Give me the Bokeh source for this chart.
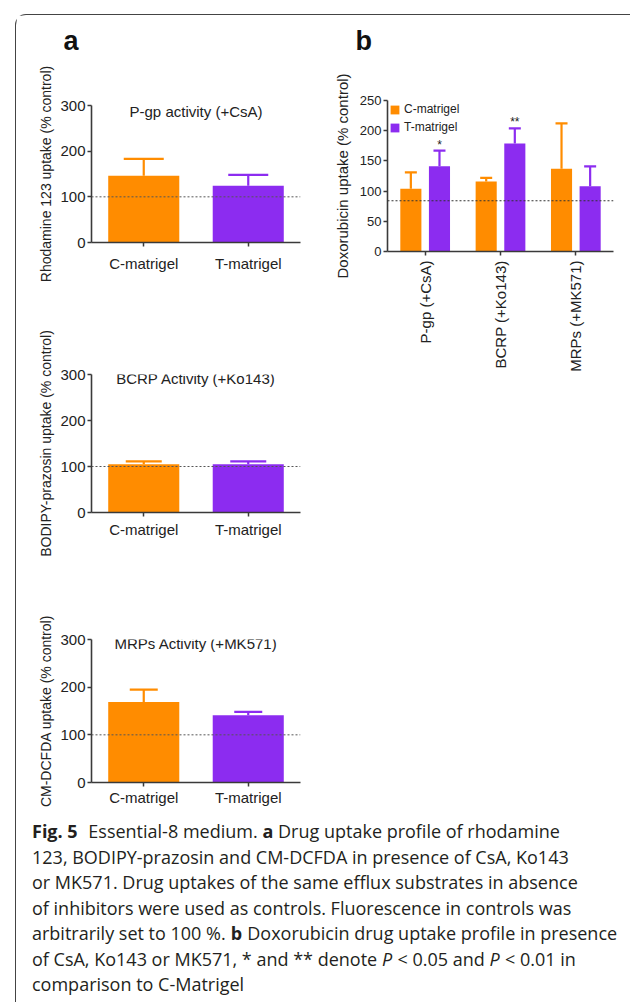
import math
from bokeh.plotting import figure
from bokeh.models import (ColumnDataSource, FactorRange, Range1d, Span, Whisker,
                          TeeHead, Label, SingleIntervalTicker, Title)
from bokeh.transform import dodge
from bokeh.layouts import column, row
from bokeh.core.properties import value
from bokeh.embed import file_html
from bokeh.resources import INLINE

# ---------------- data ----------------
conditions = ["C-matrigel", "T-matrigel"]
series_colors = ["#FF8C00", "#8C2CF0"]

pgp_mean = [146, 124]
pgp_err = [37, 24]
bcrp_mean = [105, 105]
bcrp_err = [6, 6]
mrp_mean = [169, 141]
mrp_err = [26, 7]
control_a = 100

a_titles = ["P-gp activity (+CsA)", "BCRP Activity (+Ko143)", "MRPs Activity (+MK571)"]
a_ylabels = ["Rhodamine 123 uptake (% control)",
             "BODIPY-prazosin uptake (% control)",
             "CM-DCFDA uptake (% control)"]

transporters = ["P-gp (+CsA)", "BCRP (+Ko143)", "MRPs (+MK571)"]
dox_c_mean = [104, 116, 137]
dox_c_err = [27, 6, 75]
dox_t_mean = [141, 179, 108]
dox_t_err = [26, 25, 33]
dox_sig = ["*", "**", ""]
control_b = 84

caption_lines = [
    [("Fig. 5", "bold", 2), ("Essential-8 medium.", "normal", 1), ("a", "bold", 1),
     ("Drug uptake profile of rhodamine", "normal", 0)],
    [("123, BODIPY-prazosin and CM-DCFDA in presence of CsA, Ko143", "normal", 0)],
    [("or MK571. Drug uptakes of the same efflux substrates in absence", "normal", 0)],
    [("of inhibitors were used as controls. Fluorescence in controls was", "normal", 0)],
    [("arbitrarily set to 100 %.", "normal", 1), ("b", "bold", 1),
     ("Doxorubicin drug uptake profile in presence", "normal", 0)],
    [("of CsA, Ko143 or MK571, * and ** denote", "normal", 1), ("P", "italic", 1),
     ("< 0.05 and", "normal", 1), ("P", "italic", 1), ("< 0.01 in", "normal", 0)],
    [("comparison to C-Matrigel", "normal", 0)],
]

# ---------------- styling ----------------
FONT = "Liberation Sans"
AX = "#3a3a3a"
TXT = "#222222"


def style_axes(p, tick_px, label_px, xstand):
    for ax in (p.xaxis[0], p.yaxis[0]):
        ax.axis_line_color = AX
        ax.axis_line_width = 1.6
        ax.major_tick_line_color = AX
        ax.major_tick_line_width = 1.5
        ax.major_tick_out = 4
        ax.major_tick_in = 0
        ax.minor_tick_line_color = None
        ax.major_label_text_font = FONT
        ax.major_label_text_font_size = tick_px
        ax.major_label_text_color = TXT
        ax.axis_label_text_font = FONT
        ax.axis_label_text_font_size = label_px
        ax.axis_label_text_font_style = "normal"
        ax.axis_label_text_color = TXT
    p.xaxis[0].major_label_standoff = xstand
    p.yaxis[0].major_label_standoff = 2
    p.yaxis[0].axis_label_standoff = 3
    p.xgrid.visible = False
    p.ygrid.visible = False
    p.outline_line_color = None
    p.background_fill_color = "white"
    p.border_fill_color = "white"


def panel_letter(p, letter, offset, gap):
    # an invisible spacer title next to the frame, then the panel letter above it
    p.add_layout(Title(text=" ", text_font_size="10px", standoff=gap), "above")
    p.add_layout(Title(text=letter, align="left", offset=offset, standoff=0,
                       text_font=FONT, text_font_size="27px", text_font_style="bold",
                       text_color="#111111"), "above")


def panel_a(k, mean, err, w, h, bl, br, bt, bb, cap, xstand, title_y):
    p = figure(width=w, height=h, x_range=FactorRange(*conditions),
               y_range=Range1d(0, 300), output_backend="svg", toolbar_location=None,
               title=None, min_border_left=bl, min_border_right=br, min_border_top=bt,
               min_border_bottom=bb)
    src = ColumnDataSource(dict(x=conditions, top=mean, color=series_colors))
    p.vbar(x="x", top="top", width=0.68, fill_color="color", line_color=None, source=src)
    for i in range(len(conditions)):
        s = ColumnDataSource(dict(x=[conditions[i]], lo=[mean[i]], hi=[mean[i] + err[i]]))
        p.add_layout(Whisker(base="x", lower="lo", upper="hi", source=s,
                             line_color=series_colors[i], line_width=2.2, lower_head=None,
                             upper_head=TeeHead(size=cap, line_color=series_colors[i],
                                                line_width=2.2)))
    p.add_layout(Span(location=control_a, dimension="width", line_color="#555555",
                      line_width=1, line_dash="2 2"))
    p.yaxis.ticker = SingleIntervalTicker(interval=100)
    p.yaxis.axis_label = a_ylabels[k]
    style_axes(p, "15px", "14px", xstand)
    p.add_layout(Label(x=1.0, y=title_y, text=a_titles[k], text_align="center",
                       text_baseline="middle", text_font=FONT, text_font_size="15px",
                       text_color=TXT))
    return p


a1 = panel_a(0, pgp_mean, pgp_err, 314, 284, 72, 20, 90, 57, 40, 8, 287)
panel_letter(a1, "a", -28, 37)
a2 = panel_a(1, bcrp_mean, bcrp_err, 314, 260, 75, 30, 75, 47, 36, 4, 291)
a3 = panel_a(2, mrp_mean, mrp_err, 314, 251, 74, 24, 80, 28, 28, 2, 291)

# ---------------- panel b ----------------
pb = figure(width=300, height=384, x_range=FactorRange(*transporters),
            y_range=Range1d(0, 250), output_backend="svg", toolbar_location=None,
            title=None, min_border_left=54, min_border_right=17, min_border_top=85,
            min_border_bottom=148)
b_series = [("C-matrigel", dox_c_mean, dox_c_err, -0.19, series_colors[0], ["", "", ""]),
            ("T-matrigel", dox_t_mean, dox_t_err, 0.19, series_colors[1], dox_sig)]
for name, mean, err, off, col, sig in b_series:
    src = ColumnDataSource(dict(x=transporters, top=mean,
                                hi=[m + e for m, e in zip(mean, err)], sig=sig))
    pb.vbar(x=dodge("x", off, range=pb.x_range), top="top", width=0.28,
            fill_color=col, line_color=None, source=src, legend_label=name)
    pb.add_layout(Whisker(base=dodge("x", off, range=pb.x_range), lower="top", upper="hi",
                          source=src, line_color=col, line_width=2.2, lower_head=None,
                          upper_head=TeeHead(size=12, line_color=col, line_width=2.2)))
    pb.text(x=dodge("x", off, range=pb.x_range), y="hi", text="sig", source=src,
            text_align="center", text_baseline="bottom", text_font=value(FONT),
            text_font_size="12px", text_color=TXT, y_offset=1)
pb.add_layout(Span(location=control_b, dimension="width", line_color="#333333",
                   line_width=1.2, line_dash="2 2"))
pb.yaxis.ticker = SingleIntervalTicker(interval=50)
pb.yaxis.axis_label = "Doxorubicin uptake (% control)"
style_axes(pb, "13px", "15px", 5)
pb.yaxis[0].axis_label_standoff = 6
pb.xaxis[0].major_label_text_font_size = "15px"
pb.xaxis.major_label_orientation = math.pi / 2
lg = pb.legend[0]
lg.location = "top_left"
lg.margin = 2
lg.padding = 0
lg.spacing = 4
lg.glyph_width = 11
lg.glyph_height = 11
lg.label_height = 11
lg.label_standoff = 4
lg.label_text_font = FONT
lg.label_text_font_size = "12px"
lg.label_text_color = TXT
lg.border_line_color = None
lg.background_fill_alpha = 0
panel_letter(pb, "b", -32, 32)

# ---------------- caption ----------------
OS = {' ': .26, '%': .846, '(': .296, ')': .296, '*': .552, '+': .572, ',': .245,
      '-': .322, '.': .266, '<': .572,
      'A': .633, 'B': .648, 'C': .631, 'D': .729, 'E': .556, 'F': .516, 'G': .728,
      'H': .738, 'I': .279, 'J': .267, 'K': .614, 'L': .519, 'M': .907, 'N': .764,
      'O': .779, 'P': .602, 'Q': .779, 'R': .618, 'S': .549, 'T': .553, 'U': .729,
      'V': .58, 'W': .928, 'X': .577, 'Y': .56, 'Z': .571,
      'a': .556, 'b': .613, 'c': .476, 'd': .613, 'e': .561, 'f': .336, 'g': .548,
      'h': .614, 'i': .253, 'j': .253, 'k': .525, 'l': .253, 'm': .93, 'n': .614,
      'o': .604, 'p': .613, 'q': .613, 'r': .408, 's': .477, 't': .353, 'u': .614,
      'v': .501, 'w': .778, 'x': .524, 'y': .501, 'z': .463}
CAP_PX = 18
CAP_FONT = "Open Sans"


def text_em(s, style):
    w = sum(OS.get(ch, .572) for ch in s)
    return w * (1.08 if style == "bold" else 1.0)


cx, cy, ct, cs = [], [], [], []
for li, segs in enumerate(caption_lines):
    xpos = 15.5
    for txt, style, nsp in segs:
        cx.append(xpos)
        cy.append(li)
        ct.append(txt)
        cs.append(style)
        xpos += (text_em(txt, style) + nsp * OS[' ']) * CAP_PX

cap_h = 192
line_gap = 25.5
first_px = 20.5
cap = figure(width=614, height=cap_h, x_range=Range1d(0, 614),
             y_range=Range1d((cap_h - first_px) / line_gap, -first_px / line_gap),
             output_backend="svg", toolbar_location=None, min_border=0, title=None,
             x_axis_location=None, y_axis_location=None)
cap.xgrid.visible = False
cap.ygrid.visible = False
cap.outline_line_color = None
cap.text(x="x", y="y", text="t", text_font_style="s",
         source=ColumnDataSource(dict(x=cx, y=cy, t=ct, s=cs)),
         text_font=value(CAP_FONT), text_font_size=f"{CAP_PX}px",
         text_baseline="middle", text_align="left", text_color="#231f20")

# ---------------- layout ----------------
left = column(a1, a2, a3, spacing=0)
top = row(left, pb, spacing=0)
page = column(top, cap, spacing=0, margin=(14, 0, 0, 15),
              styles={"border-top": "1.5px solid #444444",
                      "border-left": "1.5px solid #444444",
                      "border-top-left-radius": "11px"})

open("out.html", "w").write(file_html(page, INLINE))
